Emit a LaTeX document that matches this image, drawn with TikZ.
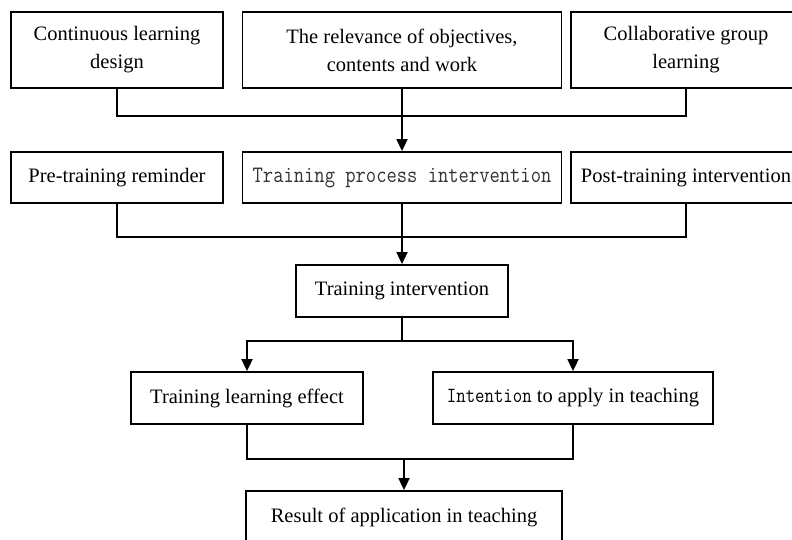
\documentclass[tikz,border=0pt]{standalone}
\usepackage{fontspec}
\setmainfont{Liberation Serif}
\usetikzlibrary{arrows.meta}

% tall typewriter text
\newcommand{\tallmono}[2]{\scalebox{1}[1.18]{\ttfamily\fontsize{#1}{28}\selectfont #2}}

\begin{document}
\begin{tikzpicture}[x=1pt,y=-1pt,
  box/.style={draw, line width=1.8pt, inner sep=0pt, align=center,
              font=\fontsize{20.5}{28}\selectfont},
  link/.style={line width=1.8pt},
  arr/.style={link, -{Triangle[length=12pt,width=11pt]}}]
\useasboundingbox (0,0) rectangle (792,539);
\clip (0,0) rectangle (792,539);

% factors of the training design
\node[box, minimum width=212pt, minimum height=76pt] (b1) at (117,50) {Continuous learning\\design};
\node[box, minimum width=319pt, minimum height=76pt] (b2) at (402,50) {The relevance of objectives,\\contents and work};
\node[box, minimum width=230pt, minimum height=76pt] (b3) at (686,50) {Collaborative group\\learning};

% intervention stages
\node[box, minimum width=212pt, minimum height=51pt] (b4) at (117,177.5) {Pre-training reminder};
\node[box, minimum width=319pt, minimum height=51pt] (b5) at (402,177.5)
  {\color{black!80}\tallmono{20}{Training process intervention}};
\node[box, minimum width=230pt, minimum height=51pt] (b6) at (686,177.5) {Post-training intervention};

\node[box, minimum width=212pt, minimum height=52pt] (b7) at (402,291) {Training intervention};

% outcomes
\node[box, minimum width=232pt, minimum height=52pt] (b8) at (247,398) {Training learning effect};
\node[box, minimum width=280pt, minimum height=52pt] (b9) at (573,398)
  {\tallmono{18.3}{Intention} to apply in teaching};
\node[box, minimum width=316pt, minimum height=52pt] (b10) at (404,517) {Result of application in teaching};

% junction points
\coordinate (j1) at (402,116);
\coordinate (j2) at (402,237);
\coordinate (j3) at (402,341);
\coordinate (j4) at (404,459);

% connectors
\draw[link] (b1.south) |- (j1) -| (b3.south);
\draw[arr] (b2.south) -- (b5.north);

\draw[link] (b4.south) |- (j2) -| (b6.south);
\draw[arr] (b5.south) -- (b7.north);

\draw[link] (b7.south) -- (j3);
\draw[arr] (j3) -| (b8.north);
\draw[arr] (j3) -| (b9.north);

\draw[link] (b8.south) |- (j4) -| (b9.south);
\draw[arr] (j4) -- (b10.north);
\end{tikzpicture}
\end{document}
